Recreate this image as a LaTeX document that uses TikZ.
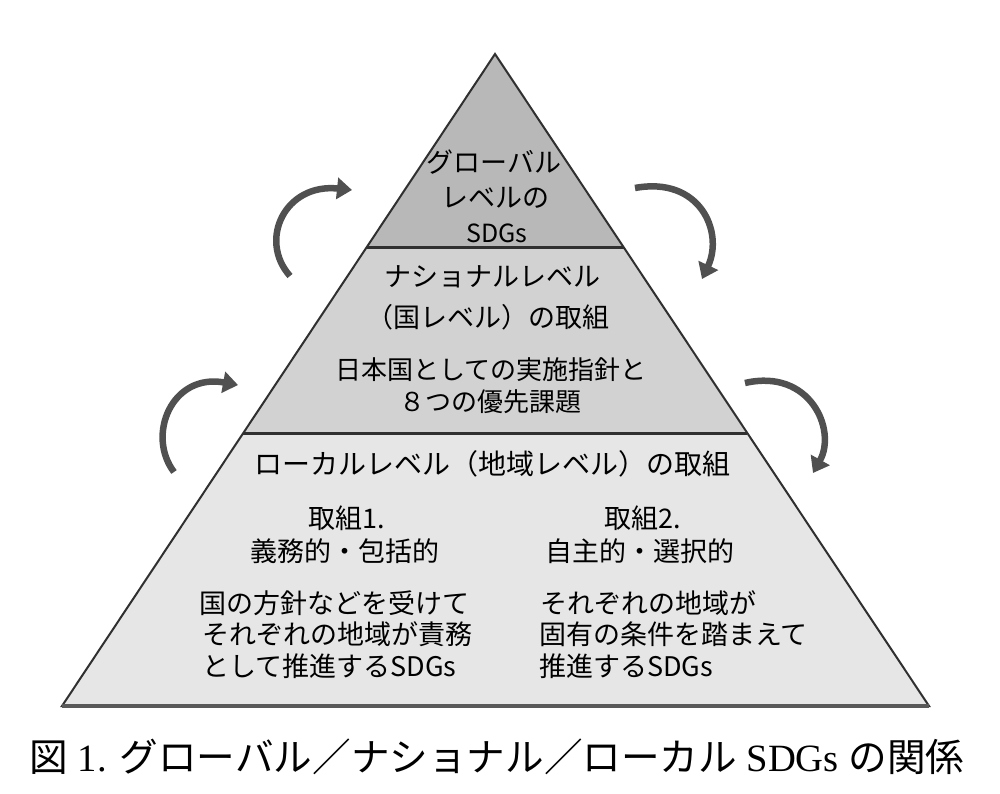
\documentclass[tikz,border=0pt]{standalone}
\usepackage{fontspec}
\setmainfont{Liberation Serif}
\newfontfamily\cjk{Noto Sans CJK JP}
\usetikzlibrary{arrows.meta}
\definecolor{topfill}{HTML}{B8B8B8}
\definecolor{midfill}{HTML}{D2D2D2}
\definecolor{lowfill}{HTML}{E6E6E6}
\definecolor{edgecol}{HTML}{303030}
\definecolor{arrowgray}{HTML}{505050}
\tikzset{
  lbl/.style={inner sep=0pt, anchor=base, font=\cjk\fontsize{27}{32}\selectfont},
  lblsmall/.style={inner sep=0pt, anchor=base, font=\cjk\fontsize{26}{32}\selectfont},
  lblleft/.style={inner sep=0pt, anchor=base west, font=\cjk\fontsize{27}{32}\selectfont},
  cycarrow/.style={draw=arrowgray, line width=6.5pt, -{Triangle[width=21pt,length=15pt]}},
  edgeline/.style={draw=edgecol, line width=2pt, line join=miter},
  divline/.style={draw=edgecol, line width=3pt},
}
\begin{document}
\begin{tikzpicture}[x=1pt,y=-1pt]
\useasboundingbox[fill=white] (0,0) rectangle (1000,794);
% pyramid corners
\coordinate (apex) at (495,54);
\coordinate (bl) at (62,706);
\coordinate (br) at (929,706);
\coordinate (d1l) at (366.8,247);
\coordinate (d1r) at (623.5,247);
\coordinate (d2l) at (243.3,433);
\coordinate (d2r) at (747.3,433);
% fills
\fill[topfill] (apex) -- (d1r) -- (d1l) -- cycle;
\fill[midfill] (d1l) -- (d1r) -- (d2r) -- (d2l) -- cycle;
\fill[lowfill] (d2l) -- (d2r) -- (br) -- (bl) -- cycle;
% outline and dividers
\draw[edgeline] (apex) -- (br) -- (bl) -- cycle;
\draw[divline] (d1l) -- (d1r);
\draw[divline] (d2l) -- (d2r);
\draw[draw=edgecol!80, line width=3.5pt] (bl) -- (br);
% cycling arrows
\draw[cycarrow] (290,276) .. controls (258,240) and (285,183) .. (352,190);
\draw[cycarrow] (635,188) .. controls (700,176) and (724,232) .. (702,279);
\draw[cycarrow] (174,472) .. controls (146,435) and (172,373) .. (238,385);
\draw[cycarrow] (745,383) .. controls (810,368) and (837,430) .. (813,473);
% top level
\node[lbl] (g1) at (494,173) {グローバル};
\node[lbl] (g2) at (495,208) {レベルの};
\node[inner sep=0pt, anchor=base, font=\cjk\fontsize{25}{30}\selectfont] (g3) at (497,242) {SDGs};
% national level
\node[lbl] (n1) at (492,286) {ナショナルレベル};
\node[lbl] (n2) at (488,327) {（国レベル）の取組};
\node[lblsmall] (n3) at (491,379) {日本国としての実施指針と};
\node[lblsmall] (n4) at (490,411) {８つの優先課題};
% local level
\node[inner sep=0pt, anchor=base, font=\cjk\fontsize{28}{32}\selectfont] (l0) at (492,474) {ローカルレベル（地域レベル）の取組};
\node[lbl] (a1) at (347,528) {取組1.};
\node[lbl] (a2) at (345,561) {義務的・包括的};
\node[lblleft] (a3) at (199,613) {国の方針などを受けて};
\node[lblleft] (a4) at (202,644) {それぞれの地域が責務};
\node[lblleft] (a5) at (202,676) {として推進するSDGs};
\node[lbl] (b1) at (643,528) {取組2.};
\node[lbl] (b2) at (640,561) {自主的・選択的};
\node[lblleft] (b3) at (540,613) {それぞれの地域が};
\node[lblleft] (b4) at (539,644) {固有の条件を踏まえて};
\node[lblleft] (b5) at (539,676) {推進するSDGs};
% caption
\node[inner sep=0pt, anchor=base, font=\fontsize{38.6}{44}\selectfont] (cap) at (497,771)
  {{\cjk 図} 1. {\cjk グローバル／ナショナル／ローカル} SDGs {\cjk の関係}};
\end{tikzpicture}
\end{document}
